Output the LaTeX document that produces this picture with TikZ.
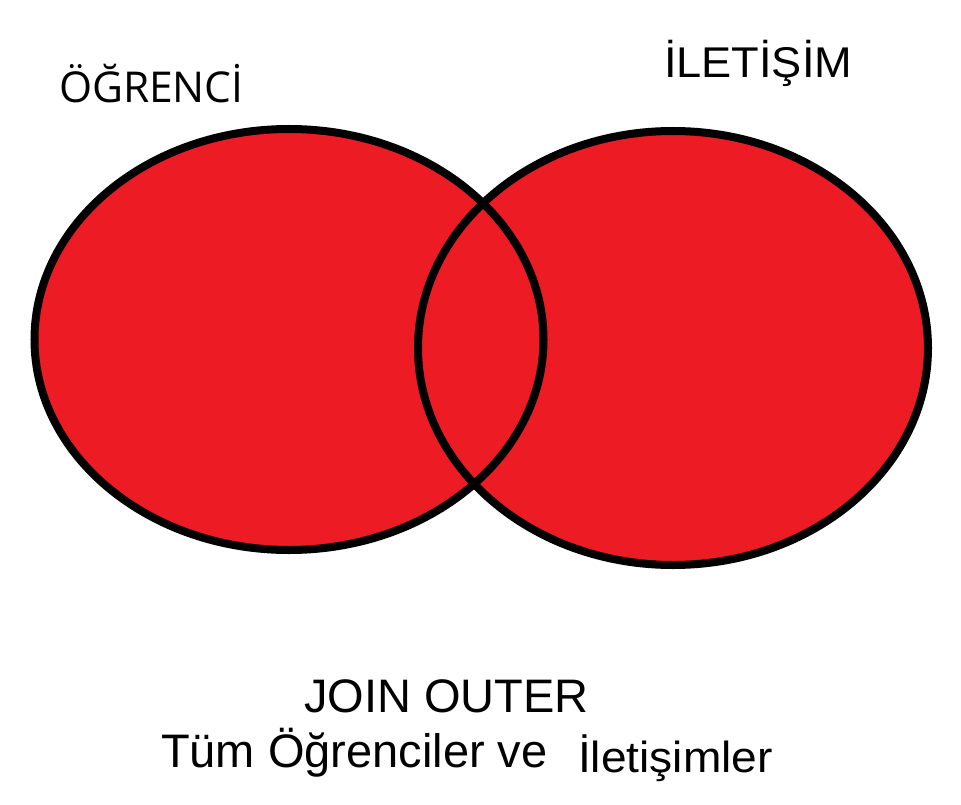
\documentclass[tikz,border=0pt]{standalone}
\usepackage{fontspec}
\setmainfont{Liberation Sans}
\newfontfamily\labfont{Open Sans}
\definecolor{paintred}{HTML}{ED1C24}
\begin{document}
\begin{tikzpicture}[x=1pt,y=-1pt,
  setfill/.style={fill=paintred},
  setline/.style={draw=black,line width=8pt},
  lbl/.style={anchor=base west,inner sep=0pt,outer sep=0pt}]
\useasboundingbox[fill=white] (0,0) rectangle (961,805);
\coordinate (cL) at (289,339.5);
\coordinate (cR) at (673,348);
\fill[setfill] (cL) ellipse [x radius=254.5pt, y radius=210.5pt];
\fill[setfill] (cR) ellipse [x radius=255pt, y radius=217pt];
\draw[setline] (cL) ellipse [x radius=254.5pt, y radius=210.5pt];
\draw[setline] (cR) ellipse [x radius=255pt, y radius=217pt];
\node[lbl] (ogr) at (59,103) {\labfont\fontsize{42.5}{50}\selectfont ÖĞRENCİ};
\node[lbl] (ilt) at (664,78) {\fontsize{43}{50}\selectfont\scalebox{1.05}[1]{İLETİŞİM}};
\node[lbl] (join) at (304,712) {\fontsize{47}{56}\selectfont JOIN OUTER};
\node[lbl] (tum) at (161,767) {\fontsize{47}{56}\selectfont Tüm Öğrenciler ve};
\node[lbl] (ilet) at (578,772) {\fontsize{43.5}{52}\selectfont\scalebox{1.06}[1]{İletişimler}};
\end{tikzpicture}
\end{document}
